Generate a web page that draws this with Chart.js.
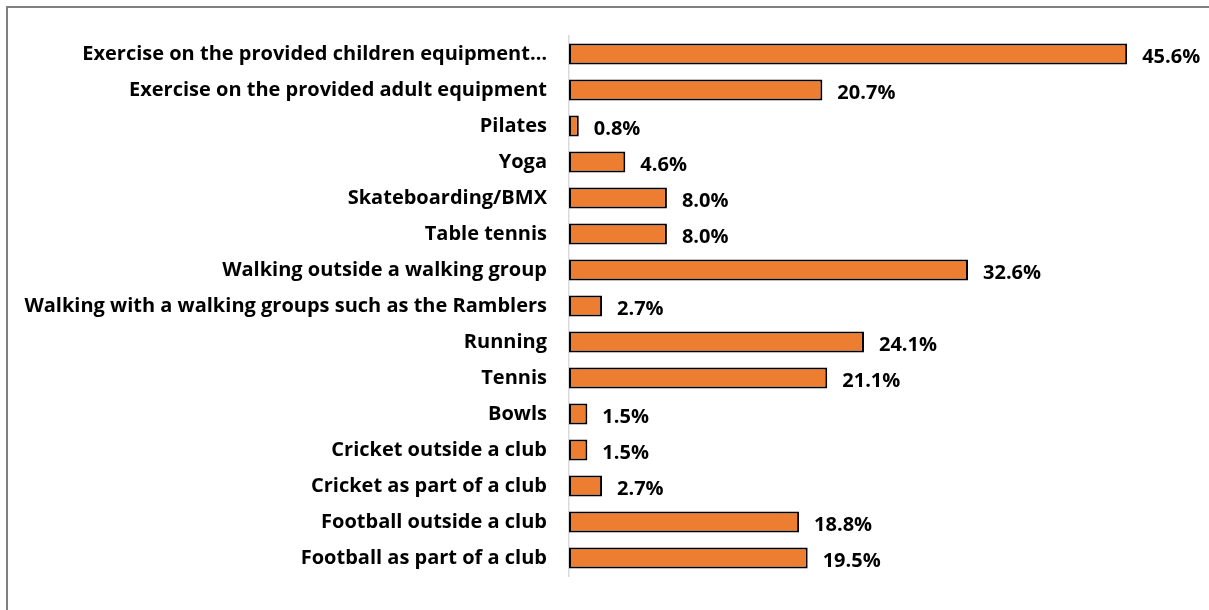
<!DOCTYPE html>
<html>
<head>
<meta charset="utf-8">
<script src="https://cdn.jsdelivr.net/npm/chart.js@4"></script>
<style>
  html, body { margin: 0; padding: 0; background: #fff; overflow: hidden; }
  #frame { position: absolute; left: 6px; top: 6px; width: 1230px; height: 640px; border: 2px solid #7f7f7f; }
  #wrap { position: absolute; left: 0; top: 0; width: 1209px; height: 610px; }
</style>
</head>
<body>
<div id="frame"></div>
<div id="wrap"><canvas id="activityChart"></canvas></div>
<script>
const activities = [
  "Exercise on the provided children equipment\u2026",
  "Exercise on the provided adult equipment",
  "Pilates",
  "Yoga",
  "Skateboarding/BMX",
  "Table tennis",
  "Walking outside a walking group",
  "Walking with a walking groups such as the Ramblers",
  "Running",
  "Tennis",
  "Bowls",
  "Cricket outside a club",
  "Cricket as part of a club",
  "Football outside a club",
  "Football as part of a club"
];
const percentages = [45.6, 20.7, 0.8, 4.6, 8.0, 8.0, 32.6, 2.7, 24.1, 21.1, 1.5, 1.5, 2.7, 18.8, 19.5];

const labelFont = { family: "'Open Sans', sans-serif", size: 20, weight: 'bold' };

// draws the % value just past the end of each bar
const valueLabels = {
  id: 'valueLabels',
  afterDatasetsDraw(chart) {
    const { ctx } = chart;
    const meta = chart.getDatasetMeta(0);
    ctx.save();
    ctx.font = `bold ${labelFont.size}px ${labelFont.family}`;
    ctx.fillStyle = '#000';
    ctx.textAlign = 'left';
    ctx.textBaseline = 'middle';
    meta.data.forEach((bar, i) => {
      ctx.fillText(percentages[i].toFixed(1) + '%', bar.x + 15, bar.y + 3);
    });
    ctx.restore();
  }
};

const ctx = document.getElementById('activityChart').getContext('2d');
new Chart(ctx, {
  type: 'bar',
  data: {
    labels: activities,
    datasets: [{
      data: percentages,
      backgroundColor: '#ED7D31',
      borderColor: '#000',
      borderWidth: 2,
      borderSkipped: false,
      barPercentage: 0.58,
      categoryPercentage: 1
    }]
  },
  options: {
    indexAxis: 'y',
    responsive: true,
    maintainAspectRatio: false,
    animation: false,
    layout: { padding: { left: 0, right: 28, top: 36, bottom: 24 } },
    plugins: { legend: { display: false }, tooltip: { enabled: false } },
    scales: {
      x: { display: false, min: 0, max: 50 },
      y: {
        afterFit: scale => { scale.width = 569; },
        grid: { display: false, drawTicks: false },
        border: { display: true, color: '#d9d9d9', width: 1.5 },
        ticks: { color: '#000', font: labelFont, padding: 22, autoSkip: false }
      }
    }
  },
  plugins: [valueLabels]
});
</script>
</body>
</html>
